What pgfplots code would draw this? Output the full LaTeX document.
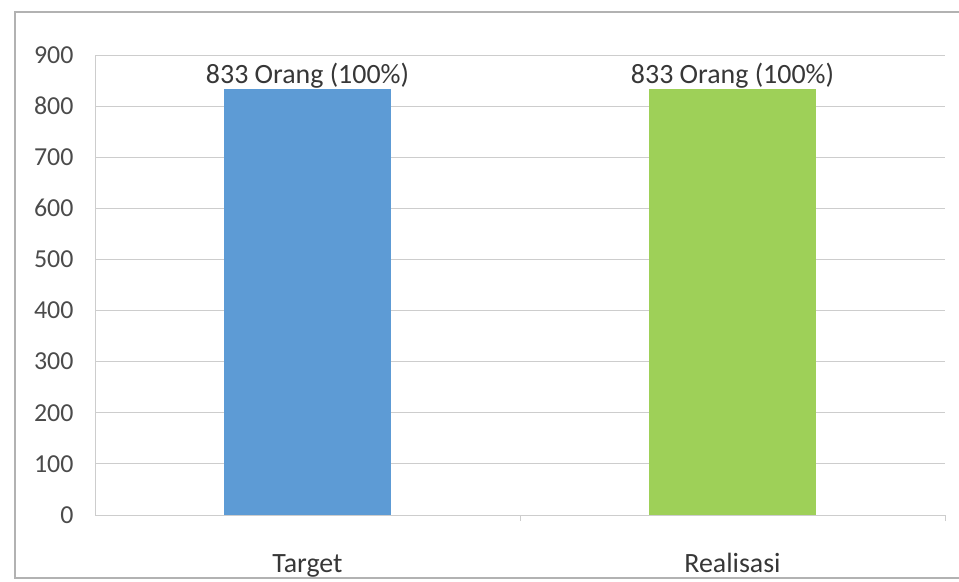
\documentclass[border=0pt]{standalone}
\usepackage{fontspec}
\setmainfont{Carlito}
\usepackage{pgfplots}
\pgfplotsset{compat=1.18}
\definecolor{barblue}{RGB}{93,155,213}
\definecolor{bargreen}{RGB}{158,208,88}
\definecolor{gridgray}{RGB}{205,205,205}
\definecolor{txt}{RGB}{55,55,55}
\begin{document}
\begin{tikzpicture}
\clip (0bp,0bp) rectangle (959bp,582bp);
\draw[gray!60, line width=1.5bp] (15bp,4bp) rectangle (985bp,570bp);
\begin{axis}[
    at={(95bp,67bp)}, anchor=south west,
    scale only axis, width=850bp, height=460bp,
    xmin=-0.5, xmax=1.5, ymin=0, ymax=900,
    ytick={0,100,...,900},
    ymajorgrids, grid style={gridgray, line width=1bp},
    xtick={0,1}, xticklabels={Target, Realisasi},
    major x tick style={draw=none},
    extra x ticks={0.5,1.5}, extra x tick labels={},
    extra x tick style={major tick length=6bp, tick align=outside, grid=none, major x tick style={draw=gridgray}},
    axis x line*=bottom, axis y line*=left,
    axis line style={gridgray, line width=1bp, -},
    y tick style={draw=none},
    /pgf/number format/assume math mode=true,
    yticklabel style={font=\fontsize{26}{30}\selectfont, text=txt!90, anchor=east, xshift=-18bp},
    xticklabel style={font=\fontsize{28}{32}\selectfont, text=txt, anchor=base, yshift=-57bp},
    nodes near coords={\pgfmathprintnumber{\pgfplotspointmeta} Orang (100\%)},
    nodes near coords style={font=\fontsize{28}{32}\selectfont, text=txt, anchor=south, inner sep=1bp},
]
\addplot[ybar, bar width=0.395, bar shift=0pt, fill=barblue, draw=none] coordinates {(0,833)};
\addplot[ybar, bar width=0.395, bar shift=0pt, fill=bargreen, draw=none] coordinates {(1,833)};
\end{axis}
\end{tikzpicture}
\end{document}
